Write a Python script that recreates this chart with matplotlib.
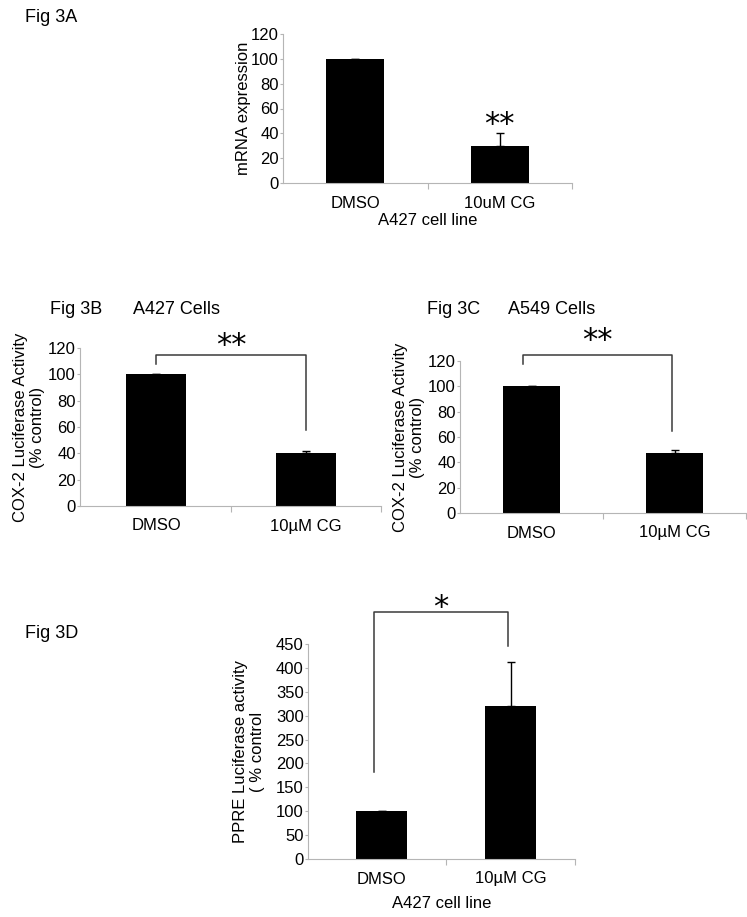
import matplotlib
matplotlib.use("Agg")
import matplotlib.pyplot as plt

plt.rcParams['font.family'] = ['Liberation Sans', 'DejaVu Sans']

# data
groups_a = ['DMSO', '10uM CG']
vals_a = [100, 30]
err_a = [0, 10]

groups_bc = ['DMSO', '10\u00b5M CG']
vals_b = [100, 40]
err_b = [0.5, 1.5]
vals_c = [100, 47]
err_c = [0, 3]

groups_d = ['DMSO', '10\u00b5M CG']
vals_d = [100, 320]
err_d = [0, 92]

W, H = 747, 917
fig = plt.figure(figsize=(W / 100, H / 100), dpi=100)


def box(l, r, t, b):
    return [l / W, 1 - b / H, (r - l) / W, (b - t) / H]


AX_GREY = '#b5b5b5'
LINE = '#3a3a3a'


def bar_panel(rect, groups, vals, errs, ymax, ystep, xlim, fs_y=12, fs_x=12):
    ax = fig.add_axes(rect)
    x = list(range(len(groups)))
    ax.bar(x, vals, width=0.4, color='black', zorder=2)
    ax.errorbar(x, vals, yerr=[[0] * len(errs), errs], fmt='none',
                ecolor='black', elinewidth=1, capsize=3, capthick=1, zorder=3)
    ax.set_xlim(*xlim)
    ax.set_ylim(0, ymax)
    ax.set_yticks(range(0, ymax + 1, ystep))
    ax.set_xticks(x)
    ax.set_xticklabels(groups)
    ax.set_xticks([0.5, 1.5], minor=True)
    for s in ['top', 'right']:
        ax.spines[s].set_visible(False)
    for s in ['left', 'bottom']:
        ax.spines[s].set_color(AX_GREY)
        ax.spines[s].set_linewidth(0.8)
    ax.tick_params(axis='y', colors=AX_GREY, labelcolor='black', length=2,
                   width=0.8, labelsize=fs_y, pad=1)
    ax.tick_params(axis='x', which='major', length=0, labelsize=fs_x, pad=9)
    ax.tick_params(axis='x', which='minor', colors=AX_GREY, length=4, width=0.8)
    return ax


def bracket(ax, x0, x1, y, y0, y1, stars, sy, fs=22):
    ax.plot([x0, x0, x1, x1], [y0, y, y, y1], color=LINE, lw=1.1,
            clip_on=False, zorder=4)
    ax.text((x0 + x1) / 2, sy, stars, ha='center', va='center',
            fontsize=fs, family='DejaVu Sans', clip_on=False)


# Fig 3A
fig.text(25 / W, 1 - 17 / H, 'Fig 3A', fontsize=13, va='center')
ax_a = bar_panel(box(283, 572, 34, 183), groups_a, vals_a, err_a,
                 120, 20, (-0.5, 1.5))
ax_a.set_ylabel('mRNA expression', fontsize=12, labelpad=0)
ax_a.set_xlabel('A427 cell line', fontsize=12, labelpad=2)
ax_a.text(1, 47, '**', ha='center', va='center', fontsize=22,
          family='DejaVu Sans', clip_on=False)

# Fig 3B
fig.text(50 / W, 1 - 310 / H, 'Fig 3B', fontsize=13, va='center')
fig.text(133 / W, 1 - 310 / H, 'A427 Cells', fontsize=13, va='center')
ax_b = bar_panel(box(80, 381, 348, 506), groups_bc, vals_b, err_b,
                 120, 20, (-0.51, 1.5))
ax_b.set_ylabel('COX-2 Luciferase Activity\n(% control)', fontsize=12,
                labelpad=2, linespacing=1.15)
bracket(ax_b, 0, 1, 115, 108, 58, '**', 122)

# Fig 3C
fig.text(427 / W, 1 - 310 / H, 'Fig 3C', fontsize=13, va='center')
fig.text(508 / W, 1 - 310 / H, 'A549 Cells', fontsize=13, va='center')
ax_c = bar_panel(box(460, 746, 361, 513), groups_bc, vals_c, err_c,
                 120, 20, (-0.5, 1.5))
ax_c.set_ylabel('COX-2 Luciferase Activity\n(% control)', fontsize=12,
                labelpad=2, linespacing=1.15)
bracket(ax_c, -0.06, 0.98, 125, 118, 65, '**', 136)

# Fig 3D
fig.text(25 / W, 1 - 633 / H, 'Fig 3D', fontsize=13, va='center')
ax_d = bar_panel(box(308, 575, 644, 859), groups_d, vals_d, err_d,
                 450, 50, (-0.57, 1.5), fs_y=12, fs_x=12)
ax_d.set_ylabel('PPRE Luciferase activity\n( % control', fontsize=12,
                labelpad=8, linespacing=1.15)
ax_d.set_xlabel('A427 cell line', fontsize=12, labelpad=7)
bracket(ax_d, -0.06, 0.98, 517, 182, 446, '*', 527)

fig.savefig('out.png', dpi=100)
